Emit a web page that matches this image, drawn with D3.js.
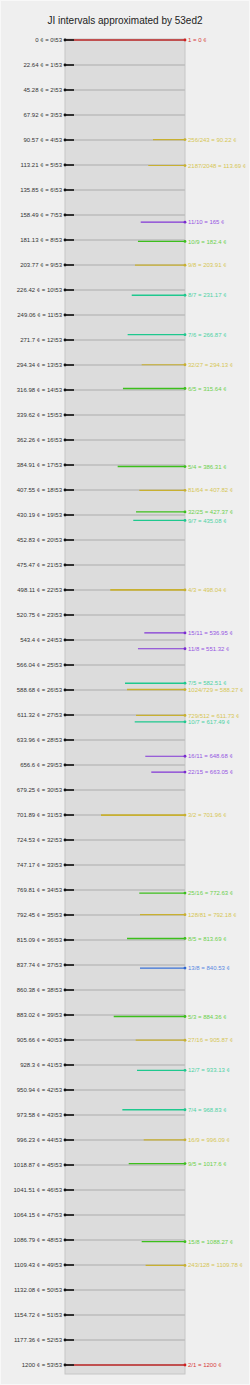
<!DOCTYPE html>
<html lang="en">
	<head>
		<meta charset="utf-8">
		<title>JI intervals approximated by 53ed2</title>
		<script type="text/javascript" src="https://cdn.jsdelivr.net/npm/d3@7"></script>
		<style type="text/css">
			body {
				margin: 0;
				background: #efefef;
			}
			text {
				font-family: "Liberation Sans", Arial, sans-serif;
			}
		</style>
	</head>
	<body>
		<script type="text/javascript">
			//Width and height
			var w = 250;
			var h = 1385;

			// cents of every step of 53ed2, as printed on the left
			var stepCents = [0, 22.64, 45.28, 67.92, 90.57, 113.21, 135.85, 158.49, 181.13, 203.77,
				226.42, 249.06, 271.7, 294.34, 316.98, 339.62, 362.26, 384.91, 407.55, 430.19,
				452.83, 475.47, 498.11, 520.75, 543.4, 566.04, 588.68, 611.32, 633.96, 656.6,
				679.25, 701.89, 724.53, 747.17, 769.81, 792.45, 815.09, 837.74, 860.38, 883.02,
				905.66, 928.3, 950.94, 973.58, 996.23, 1018.87, 1041.51, 1064.15, 1086.79, 1109.43,
				1132.08, 1154.72, 1177.36, 1200];

			// JI intervals shown on the right
			var ratios = ["1", "256/243", "2187/2048", "11/10", "10/9", "9/8", "8/7", "7/6", "32/27", "6/5",
				"5/4", "81/64", "32/25", "9/7", "4/3", "15/11", "11/8", "7/5", "1024/729", "729/512",
				"10/7", "16/11", "22/15", "3/2", "25/16", "128/81", "8/5", "13/8", "5/3", "27/16",
				"12/7", "7/4", "16/9", "9/5", "15/8", "243/128", "2/1"];
			var jiCents = [0, 90.22, 113.69, 165, 182.4, 203.91, 231.17, 266.87, 294.13, 315.64,
				386.31, 407.82, 427.37, 435.08, 498.04, 536.95, 551.32, 582.51, 588.27, 611.73,
				617.49, 648.68, 663.05, 701.96, 772.63, 792.18, 813.69, 840.53, 884.36, 905.87,
				933.13, 968.83, 996.09, 1017.6, 1088.27, 1109.78, 1200];
			var primeLimit = [1, 3, 3, 11, 5, 3, 7, 7, 3, 5,
				5, 3, 5, 7, 3, 11, 11, 7, 3, 3,
				7, 11, 11, 3, 5, 3, 5, 13, 5, 3,
				7, 7, 3, 5, 5, 3, 1];
			// relative weight of each interval (length of its bar)
			var weight = [1, 0.267, 0.306, 0.369, 0.392, 0.417, 0.444, 0.478, 0.361, 0.517,
				0.561, 0.381, 0.408, 0.431, 0.623, 0.339, 0.392, 0.5, 0.483, 0.408,
				0.419, 0.331, 0.281, 0.7, 0.381, 0.375, 0.483, 0.375, 0.594, 0.411,
				0.4, 0.522, 0.344, 0.469, 0.361, 0.328, 1];

			var lineColor = {1: "#c05050", 3: "#c8b030", 5: "#3cbf1c", 7: "#1ec88e", 11: "#8236d6", 13: "#3a72d8"};
			var dotColor = {1: "#d02020", 3: "#c8b030", 5: "#3cbf1c", 7: "#1ec88e", 11: "#7a2ad0", 13: "#2f66d0"};
			var textColor = {1: "#d83a3a", 3: "#d6c654", 5: "#6ccf4c", 7: "#4ed2a4", 11: "#9656e2", 13: "#5a88e2"};

			var left = 65, right = 185;

			var y = d3.scaleLinear().domain([0, 1200]).range([40, 1365]);
			var x = d3.scaleLinear().domain([0, 1]).range([right, left]);

			var intervals = ratios.map(function(r, i) {
				return {ratio: r, cents: jiCents[i], limit: primeLimit[i], weight: weight[i]};
			});

			var svg = d3.select("body")
				.append("svg")
				.attr("width", w)
				.attr("height", h);

			svg.append("rect")
				.attr("x", 0.5).attr("y", 0.5)
				.attr("width", w - 1).attr("height", h - 1)
				.attr("fill", "#efefef")
				.attr("stroke", "#f8f8f8");

			svg.append("text")
				.attr("x", w / 2)
				.attr("y", 23.5)
				.attr("text-anchor", "middle")
				.attr("font-size", 10)
				.attr("fill", "#222")
				.text("JI intervals approximated by 53ed2");

			// panel
			svg.append("rect")
				.attr("x", left).attr("y", 39)
				.attr("width", right - left).attr("height", 1374 - 39)
				.attr("fill", "#dcdcdc")
				.attr("stroke", "#c6c6c6")
				.attr("stroke-width", 1);

			// gray step lines
			svg.selectAll("line.step")
				.data(stepCents)
				.enter()
				.append("line")
				.attr("class", "step")
				.attr("x1", left).attr("x2", right)
				.attr("y1", function(d) { return y(d); })
				.attr("y2", function(d) { return y(d); })
				.attr("stroke", "#bcbcbc")
				.attr("stroke-width", 1.6);

			// JI interval bars
			svg.selectAll("line.ji")
				.data(intervals)
				.enter()
				.append("line")
				.attr("class", "ji")
				.attr("x1", function(d) { return x(d.weight); })
				.attr("x2", right)
				.attr("y1", function(d) { return y(d.cents); })
				.attr("y2", function(d) { return y(d.cents); })
				.attr("stroke", function(d) { return lineColor[d.limit]; })
				.attr("stroke-width", function(d) { return 0.6 + d.weight * 1.6; });

			// black step ticks
			svg.selectAll("line.tick")
				.data(stepCents)
				.enter()
				.append("line")
				.attr("class", "tick")
				.attr("x1", left).attr("x2", left + 9)
				.attr("y1", function(d) { return y(d); })
				.attr("y2", function(d) { return y(d); })
				.attr("stroke", "#222")
				.attr("stroke-width", 1.8);

			svg.selectAll("circle.step")
				.data(stepCents)
				.enter()
				.append("circle")
				.attr("class", "step")
				.attr("cx", left)
				.attr("cy", function(d) { return y(d); })
				.attr("r", 1.4)
				.attr("fill", "#111");

			svg.selectAll("circle.ji")
				.data(intervals)
				.enter()
				.append("circle")
				.attr("class", "ji")
				.attr("cx", right)
				.attr("cy", function(d) { return y(d.cents); })
				.attr("r", 1.4)
				.attr("fill", function(d) { return dotColor[d.limit]; });

			// labels
			svg.selectAll("text.step")
				.data(stepCents)
				.enter()
				.append("text")
				.attr("class", "step")
				.attr("x", left - 3)
				.attr("y", function(d) { return y(d); })
				.attr("dy", "0.35em")
				.attr("text-anchor", "end")
				.attr("font-size", 6)
				.attr("fill", "#333")
				.text(function(d, i) { return d + " \u00a2 = " + i + "\\53"; });

			svg.selectAll("text.ji")
				.data(intervals)
				.enter()
				.append("text")
				.attr("class", "ji")
				.attr("x", right + 3)
				.attr("y", function(d) { return y(d.cents); })
				.attr("dy", "0.35em")
				.attr("font-size", 6)
				.attr("fill", function(d) { return textColor[d.limit]; })
				.text(function(d) { return d.ratio + " = " + d.cents + " \u00a2"; });
		</script>
	</body>
</html>
